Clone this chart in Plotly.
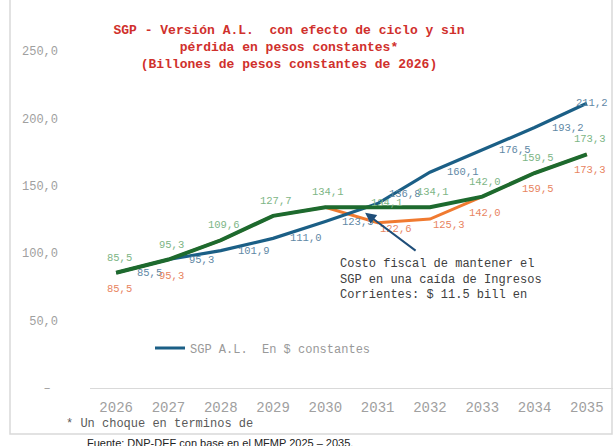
import plotly.graph_objects as go

# ---------------- data ----------------
years = [2026, 2027, 2028, 2029, 2030, 2031, 2032, 2033, 2034, 2035]
year_labels = [str(y) for y in years]
sgp_al_constantes = [85.5, 95.3, 101.9, 111.0, 123.5, 136.8, 160.1, 176.5, 193.2, 211.2]
sgp_ciclo_sin_perdida = [85.5, 95.3, 109.6, 127.7, 134.1, 134.1, 134.1, 142.0, 159.5, 173.3]
sgp_ciclo_con_caida = [85.5, 95.3, 109.6, 127.7, 134.1, 122.6, 125.3, 142.0, 159.5, 173.3]
caida_label_visible = [True, True, False, False, False, True, True, True, True, True]
y_ticks = [0, 50, 100, 150, 200, 250]
y_ticktext = ["–\u00a0", "50,0", "100,0", "150,0", "200,0", "250,0"]

title_text = ("SGP - Versión A.L.\u00a0 con efecto de ciclo y sin<br>"
              "pérdida en pesos constantes*<br>"
              "(Billones de pesos constantes de 2026)")
callout_text = ("Costo fiscal de mantener el<br>"
                "SGP en una caída de Ingresos<br>"
                "Corrientes: $ 11.5 bill en")
footnote_text = "* Un choque en terminos de"
source_text = "Fuente: DNP-DEF con base en el MFMP 2025 – 2035."

# ---------------- styles ----------------
MONO = "Liberation Mono, Courier New, monospace"
BLUE, GREEN, ORANGE = "#1b5f86", "#1d6a2e", "#f07a30"
BLUE_LBL, GREEN_LBL, ORANGE_LBL = "#5f88a5", "#7db585", "#e8845f"


def fmt(v):
    return f"{v:.1f}".replace(".", ",")


fig = go.Figure()
fig.add_trace(go.Scatter(x=years, y=sgp_ciclo_con_caida, mode="lines",
                         line=dict(color=ORANGE, width=3), showlegend=False,
                         hoverinfo="skip"))
fig.add_trace(go.Scatter(x=years, y=sgp_al_constantes, mode="lines",
                         line=dict(color=BLUE, width=3.2),
                         name="SGP A.L.\u00a0 En $ constantes", showlegend=True))
fig.add_trace(go.Scatter(x=years, y=sgp_ciclo_sin_perdida, mode="lines",
                         line=dict(color=GREEN, width=4), showlegend=False,
                         hoverinfo="skip"))

annotations = []
lbl_font = dict(family=MONO, size=10.5)

# label offsets (pixels: dx right, dy down)
blue_off = {5: (27, -10), 9: (5, 0)}
green_off = {5: (9, -4)}
orange_off = {5: (18, 6), 6: (19, 6)}

for i, (x, v) in enumerate(zip(years, sgp_al_constantes)):
    dx, dy = blue_off.get(i, (33, 0))
    annotations.append(dict(x=x, y=v, text=fmt(v), showarrow=False, xshift=dx, yshift=-dy,
                            font=dict(color=BLUE_LBL, **lbl_font)))
for i, (x, v) in enumerate(zip(years, sgp_ciclo_sin_perdida)):
    dx, dy = green_off.get(i, (3, -15))
    annotations.append(dict(x=x, y=v, text=fmt(v), showarrow=False, xshift=dx, yshift=-dy,
                            font=dict(color=GREEN_LBL, **lbl_font)))
for i, (x, v) in enumerate(zip(years, sgp_ciclo_con_caida)):
    if not caida_label_visible[i]:
        continue
    dx, dy = orange_off.get(i, (3, 16))
    annotations.append(dict(x=x, y=v, text=fmt(v), showarrow=False, xshift=dx, yshift=-dy,
                            font=dict(color=ORANGE_LBL, **lbl_font)))

# callout text and arrow
annotations.append(dict(x=2030.24, y=99, xanchor="left", yanchor="top", align="left",
                        text=callout_text, showarrow=False,
                        font=dict(family=MONO, size=12, color="#404040")))
annotations.append(dict(x=2030.76, y=130, text="", showarrow=True, ax=52, ay=39,
                        arrowhead=2, arrowsize=1.1, arrowwidth=2, arrowcolor="#1f4e79"))

# footnote and source
annotations.append(dict(xref="paper", yref="paper", x=(64 - 90) / 523, y=(388 - 424) / 368,
                        xanchor="left", yanchor="middle", text=footnote_text, showarrow=False,
                        font=dict(family=MONO, size=12, color="#595959")))
annotations.append(dict(xref="paper", yref="paper", x=(85 - 90) / 523, y=(388 - 443) / 368,
                        xanchor="left", yanchor="middle", text=source_text, showarrow=False,
                        font=dict(family="Liberation Sans, Arial, sans-serif", size=11,
                                  color="#222222")))

fig.update_layout(
    width=613, height=446,
    margin=dict(l=90, r=0, t=20, b=58, autoexpand=False),
    paper_bgcolor="white", plot_bgcolor="white",
    title=dict(text=title_text, x=289 / 613, xanchor="center", xref="container",
               y=1 - 34 / 446, yanchor="top",
               font=dict(family=MONO, size=13, color="#d0302c", weight="bold")),
    xaxis=dict(range=[2025.5, 2035.5], tickvals=years, ticktext=year_labels,
               showgrid=False, zeroline=False, showline=True, linecolor="#d9d9d9",
               linewidth=1, ticks="", ticklabelstandoff=6, automargin=False,
               tickfont=dict(family=MONO, size=14, color="#a0a0a0")),
    yaxis=dict(range=[0, 273], tickvals=y_ticks, ticktext=y_ticktext,
               showgrid=False, zeroline=False, showline=False, ticks="",
               ticklabelstandoff=31, automargin=False,
               tickfont=dict(family=MONO, size=12, color="#a0a0a0")),
    legend=dict(x=(150 - 90) / 523, y=(388 - 348) / 368, xanchor="left", yanchor="middle",
                bgcolor="rgba(0,0,0,0)", font=dict(family=MONO, size=12, color="#999999")),
    annotations=annotations,
    shapes=[dict(type="rect", xref="paper", yref="paper",
                 x0=(10 - 90) / 523, x1=(612 - 90) / 523,
                 y0=(388 - 434) / 368, y1=(388 + 10) / 368,
                 line=dict(color="#d9d9d9", width=1.5), layer="below")],
)

fig.write_html("out.html", config={"displayModeBar": False},
               post_script="document.body.style.margin='0';document.body.style.overflow='hidden';")
